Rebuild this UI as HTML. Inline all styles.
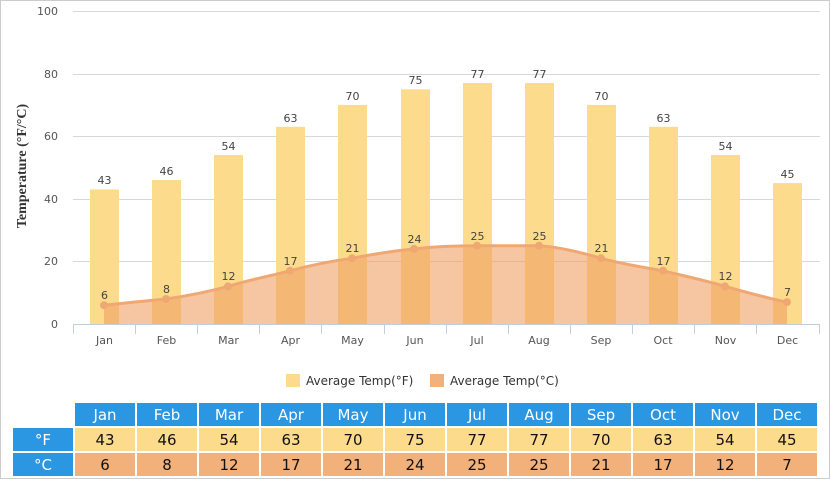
<!DOCTYPE html>
<html><head><meta charset="utf-8"><style>
body{margin:0;background:#fff}
svg{display:block;font-family:"DejaVu Sans","Liberation Sans",sans-serif}
</style></head><body>
<svg width="830" height="479" xmlns="http://www.w3.org/2000/svg">
<rect x="0.5" y="0.5" width="829" height="478" fill="#fff" stroke="#ccc"/>
<g stroke="#d8d8d8" stroke-width="1">
<line x1="73" x2="820" y1="11.5" y2="11.5"/><line x1="73" x2="820" y1="74.5" y2="74.5"/>
<line x1="73" x2="820" y1="136.5" y2="136.5"/><line x1="73" x2="820" y1="199.5" y2="199.5"/>
<line x1="73" x2="820" y1="261.5" y2="261.5"/>
</g>
<g font-size="11" fill="#555" text-anchor="end">
<text x="58" y="15">100</text><text x="58" y="78">80</text><text x="58" y="140">60</text>
<text x="58" y="203">40</text><text x="58" y="265">20</text><text x="58" y="328">0</text>
</g>
<text transform="translate(26,166) rotate(-90)" text-anchor="middle" font-family="Liberation Serif,serif" font-weight="bold" font-size="14" fill="#333">Temperature (°F/°C)</text>
<g fill="#fcdb8c">
<rect x="90" y="189.4" width="29" height="134.6"/>
<rect x="152" y="180" width="29" height="144"/>
<rect x="214" y="155" width="29" height="169"/>
<rect x="276" y="126.8" width="29" height="197.2"/>
<rect x="338" y="104.9" width="29" height="219.1"/>
<rect x="401" y="89.3" width="29" height="234.7"/>
<rect x="463" y="83" width="29" height="241"/>
<rect x="525" y="83" width="29" height="241"/>
<rect x="587" y="104.9" width="29" height="219.1"/>
<rect x="649" y="126.8" width="29" height="197.2"/>
<rect x="711" y="155" width="29" height="169"/>
<rect x="773" y="183.1" width="29" height="140.9"/>
</g>
<g font-size="11" fill="#444" text-anchor="middle">
<text x="104.5" y="184">43</text><text x="166.5" y="175">46</text><text x="228.5" y="150">54</text>
<text x="290.5" y="122">63</text><text x="352.5" y="100">70</text><text x="415.5" y="84">75</text>
<text x="477.5" y="78">77</text><text x="539.5" y="78">77</text><text x="601.5" y="100">70</text>
<text x="663.5" y="122">63</text><text x="725.5" y="150">54</text><text x="787.5" y="178">45</text>
</g>
<path d="M104,305.2 C125,303 145,301 166,299 C187,296 207,292 228,286.4 C249,280 270,276 290,270.8 C311,265 332,261 352,258.3 C373,254 394,251 414,248.9 C435,246.5 456,245.7 477,245.7 C498,245.7 518,245.7 539,245.7 C560,247 580,252 601,258.3 C622,264 642,267 663,270.8 C684,276 704,280 725,286.4 C746,292 766,298 787,302.1 L787,324 L104,324 Z" fill="rgba(240,160,100,0.6)"/>
<path d="M104,305.2 C125,303 145,301 166,299 C187,296 207,292 228,286.4 C249,280 270,276 290,270.8 C311,265 332,261 352,258.3 C373,254 394,251 414,248.9 C435,246.5 456,245.7 477,245.7 C498,245.7 518,245.7 539,245.7 C560,247 580,252 601,258.3 C622,264 642,267 663,270.8 C684,276 704,280 725,286.4 C746,292 766,298 787,302.1" fill="none" stroke="#f0a872" stroke-width="3"/>
<g fill="#f0a872">
<circle cx="104" cy="305.2" r="4"/><circle cx="166" cy="299" r="4"/><circle cx="228" cy="286.4" r="4"/>
<circle cx="290" cy="270.8" r="4"/><circle cx="352" cy="258.3" r="4"/><circle cx="414" cy="248.9" r="4"/>
<circle cx="477" cy="245.7" r="4"/><circle cx="539" cy="245.7" r="4"/><circle cx="601" cy="258.3" r="4"/>
<circle cx="663" cy="270.8" r="4"/><circle cx="725" cy="286.4" r="4"/><circle cx="787" cy="302.1" r="4"/>
</g>
<g font-size="11" fill="#444" text-anchor="middle">
<text x="104.5" y="299">6</text><text x="166.5" y="293">8</text><text x="228.5" y="280">12</text>
<text x="290.5" y="265">17</text><text x="352.5" y="252">21</text><text x="414.5" y="243">24</text>
<text x="477.5" y="240">25</text><text x="539.5" y="240">25</text><text x="601.5" y="252">21</text>
<text x="663.5" y="265">17</text><text x="725.5" y="280">12</text><text x="787.5" y="296">7</text>
</g>
<line x1="73" x2="820" y1="324.5" y2="324.5" stroke="#c0cfe0"/>
<g stroke="#c0cfe0">
<line x1="73.5" x2="73.5" y1="324" y2="334"/><line x1="135.5" x2="135.5" y1="324" y2="334"/>
<line x1="197.5" x2="197.5" y1="324" y2="334"/><line x1="259.5" x2="259.5" y1="324" y2="334"/>
<line x1="321.5" x2="321.5" y1="324" y2="334"/><line x1="384.5" x2="384.5" y1="324" y2="334"/>
<line x1="446.5" x2="446.5" y1="324" y2="334"/><line x1="508.5" x2="508.5" y1="324" y2="334"/>
<line x1="570.5" x2="570.5" y1="324" y2="334"/><line x1="632.5" x2="632.5" y1="324" y2="334"/>
<line x1="694.5" x2="694.5" y1="324" y2="334"/><line x1="756.5" x2="756.5" y1="324" y2="334"/>
<line x1="819.5" x2="819.5" y1="324" y2="334"/>
</g>
<g font-size="11" fill="#555" text-anchor="middle">
<text x="104.5" y="344">Jan</text><text x="166.5" y="344">Feb</text><text x="228.5" y="344">Mar</text>
<text x="290.5" y="344">Apr</text><text x="352.5" y="344">May</text><text x="415" y="344">Jun</text>
<text x="477" y="344">Jul</text><text x="539" y="344">Aug</text><text x="601" y="344">Sep</text>
<text x="663" y="344">Oct</text><text x="725.5" y="344">Nov</text><text x="787.5" y="344">Dec</text>
</g>
<rect x="286" y="374" width="14" height="13" fill="#fcdb8c"/>
<text x="306" y="385" font-size="12" fill="#333">Average Temp(°F)</text>
<rect x="430" y="374" width="14" height="13" fill="#f2b07a"/>
<text x="450" y="385" font-size="12" fill="#333">Average Temp(°C)</text>
<g font-size="15" text-anchor="middle">
<rect x="13" y="428" width="60" height="23" fill="#2b96e2"/>
<rect x="13" y="453" width="60" height="23" fill="#2b96e2"/>
<text x="43" y="445" fill="#fff">°F</text><text x="43" y="470" fill="#fff">°C</text>
</g>
<g font-size="15" text-anchor="middle">
<rect x="75" y="403" width="60" height="23" fill="#2b96e2"/><rect x="75" y="428" width="60" height="23" fill="#fcdb8c"/><rect x="75" y="453" width="60" height="23" fill="#f2b07a"/>
<rect x="137" y="403" width="60" height="23" fill="#2b96e2"/><rect x="137" y="428" width="60" height="23" fill="#fcdb8c"/><rect x="137" y="453" width="60" height="23" fill="#f2b07a"/>
<rect x="199" y="403" width="60" height="23" fill="#2b96e2"/><rect x="199" y="428" width="60" height="23" fill="#fcdb8c"/><rect x="199" y="453" width="60" height="23" fill="#f2b07a"/>
<rect x="261" y="403" width="60" height="23" fill="#2b96e2"/><rect x="261" y="428" width="60" height="23" fill="#fcdb8c"/><rect x="261" y="453" width="60" height="23" fill="#f2b07a"/>
<rect x="323" y="403" width="60" height="23" fill="#2b96e2"/><rect x="323" y="428" width="60" height="23" fill="#fcdb8c"/><rect x="323" y="453" width="60" height="23" fill="#f2b07a"/>
<rect x="385" y="403" width="60" height="23" fill="#2b96e2"/><rect x="385" y="428" width="60" height="23" fill="#fcdb8c"/><rect x="385" y="453" width="60" height="23" fill="#f2b07a"/>
<rect x="447" y="403" width="60" height="23" fill="#2b96e2"/><rect x="447" y="428" width="60" height="23" fill="#fcdb8c"/><rect x="447" y="453" width="60" height="23" fill="#f2b07a"/>
<rect x="509" y="403" width="60" height="23" fill="#2b96e2"/><rect x="509" y="428" width="60" height="23" fill="#fcdb8c"/><rect x="509" y="453" width="60" height="23" fill="#f2b07a"/>
<rect x="571" y="403" width="60" height="23" fill="#2b96e2"/><rect x="571" y="428" width="60" height="23" fill="#fcdb8c"/><rect x="571" y="453" width="60" height="23" fill="#f2b07a"/>
<rect x="633" y="403" width="60" height="23" fill="#2b96e2"/><rect x="633" y="428" width="60" height="23" fill="#fcdb8c"/><rect x="633" y="453" width="60" height="23" fill="#f2b07a"/>
<rect x="695" y="403" width="60" height="23" fill="#2b96e2"/><rect x="695" y="428" width="60" height="23" fill="#fcdb8c"/><rect x="695" y="453" width="60" height="23" fill="#f2b07a"/>
<rect x="757" y="403" width="60" height="23" fill="#2b96e2"/><rect x="757" y="428" width="60" height="23" fill="#fcdb8c"/><rect x="757" y="453" width="60" height="23" fill="#f2b07a"/>
<g fill="#fff">
<text x="105" y="420">Jan</text><text x="167" y="420">Feb</text><text x="229" y="420">Mar</text><text x="291" y="420">Apr</text>
<text x="353" y="420">May</text><text x="415" y="420">Jun</text><text x="477" y="420">Jul</text><text x="539" y="420">Aug</text>
<text x="601" y="420">Sep</text><text x="663" y="420">Oct</text><text x="725" y="420">Nov</text><text x="787" y="420">Dec</text>
</g>
<g fill="#111">
<text x="105" y="445">43</text><text x="167" y="445">46</text><text x="229" y="445">54</text><text x="291" y="445">63</text>
<text x="353" y="445">70</text><text x="415" y="445">75</text><text x="477" y="445">77</text><text x="539" y="445">77</text>
<text x="601" y="445">70</text><text x="663" y="445">63</text><text x="725" y="445">54</text><text x="787" y="445">45</text>
<text x="105" y="470">6</text><text x="167" y="470">8</text><text x="229" y="470">12</text><text x="291" y="470">17</text>
<text x="353" y="470">21</text><text x="415" y="470">24</text><text x="477" y="470">25</text><text x="539" y="470">25</text>
<text x="601" y="470">21</text><text x="663" y="470">17</text><text x="725" y="470">12</text><text x="787" y="470">7</text>
</g>
</g>
</svg>
</body></html>
